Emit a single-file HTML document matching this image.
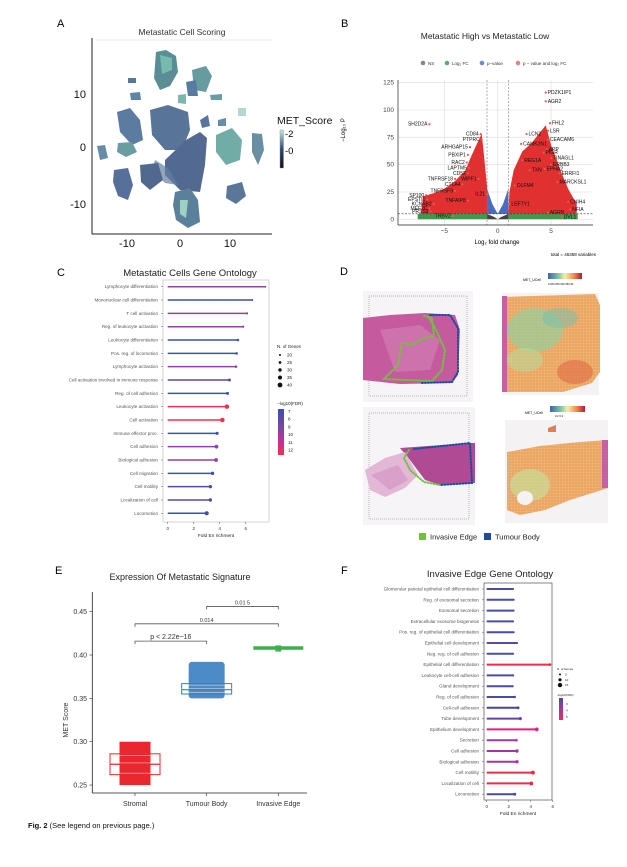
<!DOCTYPE html>
<html><head><meta charset="utf-8"><style>
html,body{margin:0;padding:0;background:#fff;}
svg{display:block;font-family:"Liberation Sans",sans-serif;}
</style></head><body>
<svg id="fig" width="627" height="867" viewBox="0 0 627 867" xmlns="http://www.w3.org/2000/svg">
<rect width="627" height="867" fill="#fff"/>
<defs>
<linearGradient id="gA" x1="0" y1="1" x2="0" y2="0"><stop offset="0" stop-color="#111"/><stop offset="0.5" stop-color="#2d4a7a"/><stop offset="1" stop-color="#c8eadc"/></linearGradient>
<linearGradient id="gSp" x1="0" y1="0" x2="1" y2="0"><stop offset="0" stop-color="#3f64b0"/><stop offset="0.3" stop-color="#7cc4a4"/><stop offset="0.5" stop-color="#f3f0a8"/><stop offset="0.75" stop-color="#f0904c"/><stop offset="1" stop-color="#b2183c"/></linearGradient>
<linearGradient id="gC" x1="0" y1="0" x2="0" y2="1"><stop offset="0" stop-color="#3a4fa8"/><stop offset="0.4" stop-color="#7a48a2"/><stop offset="0.7" stop-color="#c4309a"/><stop offset="1" stop-color="#f2304a"/></linearGradient>
<linearGradient id="gF" x1="0" y1="0" x2="0" y2="1"><stop offset="0" stop-color="#4a4aa8"/><stop offset="0.5" stop-color="#a038a0"/><stop offset="1" stop-color="#f02a5a"/></linearGradient>
<pattern id="spots" width="3" height="3" patternUnits="userSpaceOnUse"><circle cx="1.5" cy="1.5" r="1" fill="#f5c68a" opacity="0.6"/></pattern>
</defs>

<!-- PANEL A -->
<g>
<text x="57" y="27" font-size="11">A</text>
<text x="182" y="35" font-size="8.5" text-anchor="middle" fill="#333">Metastatic Cell Scoring</text>
<line x1="95" y1="40" x2="272" y2="40" stroke="#e8e8e8" stroke-width="1"/>
<g opacity="0.85">
<path d="M156,52 L166,50 L176,56 L178,72 L170,86 L160,90 L154,78 Z" fill="#3f7a86"/>
<path d="M160,55 L172,58 L172,70 L162,74 Z" fill="#5fb0a0"/>
<path d="M150,110 L168,105 L188,112 L190,130 L182,150 L165,150 L152,135 Z" fill="#3b5d86"/>
<path d="M165,160 L186,140 L200,132 L207,138 L205,165 L200,192 L180,190 L165,175 Z" fill="#34507e"/>
<path d="M155,160 L168,168 L178,185 L165,183 L152,170 Z" fill="#4a6a90" opacity="0.7"/>
<path d="M175,192 L190,188 L198,200 L200,222 L188,228 L176,220 L173,205 Z" fill="#3f6a8a"/>
<path d="M180,200 L188,200 L186,218 L180,214 Z" fill="#8fc8b8"/>
<path d="M192,70 L206,66 L212,76 L206,92 L194,90 Z" fill="#4c8a90"/>
<path d="M216,135 L232,128 L242,140 L240,160 L226,165 L216,152 Z" fill="#5a9e98"/>
<path d="M252,133 L262,134 L264,150 L258,165 L252,152 Z" fill="#4d7c92"/>
<path d="M227,186 L242,182 L246,196 L236,204 L226,198 Z" fill="#3e5f88"/>
<path d="M117,112 L130,108 L140,120 L143,140 L132,145 L120,132 Z" fill="#3f6590"/>
<path d="M97,146 L105,145 L108,158 L100,160 Z" fill="#4c7a96"/>
<path d="M118,143 L132,142 L137,152 L126,157 L117,152 Z" fill="#4f8c92"/>
<path d="M114,170 L128,168 L133,185 L128,200 L118,196 L113,182 Z" fill="#39578a"/>
<path d="M140,165 L158,163 L163,180 L150,190 L141,182 Z" fill="#33507c"/>
<path d="M186,82 L196,80 L198,96 L188,96 Z" fill="#3c6590"/>
<path d="M130,93 L140,92 L141,100 L131,100 Z" fill="#40709a"/>
<path d="M178,95 L186,94 L186,104 L178,103 Z" fill="#66aaa0"/>
<path d="M210,95 L222,94 L222,100 L211,100 Z" fill="#4f8e96"/>
<path d="M128,78 L136,78 L136,83 L128,83 Z" fill="#3a6090"/>
<path d="M218,120 L226,118 L226,126 L218,126 Z" fill="#4c7a96"/>
<path d="M238,108 L246,108 L246,116 L238,116 Z" fill="#6ab0a8" opacity="0.6"/>
<path d="M200,120 L208,115 L210,126 L202,128 Z" fill="#3a5d8c"/>
</g>
<line x1="92" y1="38" x2="92" y2="234" stroke="#222" stroke-width="1"/>
<line x1="92" y1="234" x2="272" y2="234" stroke="#222" stroke-width="1"/>
<g font-size="11" fill="#111">
<text x="86" y="98" text-anchor="end">10</text>
<text x="86" y="151" text-anchor="end">0</text>
<text x="86" y="208" text-anchor="end">-10</text>
<text x="127" y="247" text-anchor="middle">-10</text>
<text x="180" y="247" text-anchor="middle">0</text>
<text x="230" y="247" text-anchor="middle">10</text>
</g>
<text x="277" y="124" font-size="10.5" fill="#111">MET_Score</text>
<rect x="280" y="130" width="3.5" height="38" fill="url(#gA)" stroke="#888" stroke-width="0.4"/>
<text x="285" y="137" font-size="9.5">-2</text>
<text x="285" y="154" font-size="9.5">-0</text>
</g>

<!-- PANEL B -->
<g id="panelB">
<text x="341" y="27" font-size="11">B</text>
<text x="485" y="39" font-size="8.5" text-anchor="middle" fill="#222">Metastatic High vs Metastatic Low</text>
<g font-size="4.5" fill="#333">
<circle cx="423" cy="63" r="2.3" fill="#888"/><text x="428" y="64.8">NS</text>
<circle cx="447" cy="63" r="2.3" fill="#5cae6a"/><text x="452" y="64.8">Log₂ FC</text>
<circle cx="482" cy="63" r="2.3" fill="#6c8cc8"/><text x="487" y="64.8">p−value</text>
<circle cx="518" cy="63" r="2.3" fill="#e88080"/><text x="523" y="64.8">p − value and log₂ FC</text>
</g>
<g id="volcano"></g>
<text x="345" y="130" font-size="6" transform="rotate(-90 345 130)" text-anchor="middle">−Log₁₀ P</text>
<text x="497" y="244" font-size="6" text-anchor="middle">Log₂ fold change</text>
<text x="596" y="256" font-size="4.5" text-anchor="end">total = 46358 variables</text>
</g>

<!-- PANEL C -->
<g id="panelC">
<text x="57" y="276" font-size="11">C</text>
<text x="190" y="276" font-size="9.5" text-anchor="middle" fill="#222">Metastatic Cells Gene Ontology</text>
</g>

<!-- PANEL D -->
<g>
<text x="340" y="275" font-size="11">D</text>
<g>
<rect x="363" y="291" width="110" height="111" fill="#f6f4f7"/>
<rect x="369" y="296" width="98" height="100" fill="none" stroke="#ccc" stroke-width="1.5" stroke-dasharray="1 1"/>
<path d="M363,318 L390,315 L425,313 L455,315 L460,330 L458,375 L452,383 L400,384 L363,380 Z" fill="#c55a9e"/>
<path d="M380,330 L420,325 L440,340 L430,370 L395,372 Z" fill="#d27cb2" opacity="0.7"/>
<path d="M424,316 L432,318 L434,336 L424,338 L412,345 L402,343 L398,365 L384,379 L432,381 L442,370 L445,350 L436,330 L428,316" fill="none" stroke="#6fc23e" stroke-width="2" stroke-dasharray="1 2" stroke-linecap="round"/>
<path d="M430,315 L450,315 L458,328 L458,372 L452,382 L420,383" fill="none" stroke="#1e4aa0" stroke-width="2" stroke-dasharray="1 2" stroke-linecap="round"/>
</g>
<g>
<text x="523" y="281" font-size="3.5">MET_UCell</text>
<rect x="548" y="273" width="34" height="6" fill="url(#gSp)"/>
<text x="548" y="285" font-size="2.6">0.200.250.300.350.40</text>
<rect x="502" y="293" width="97" height="102" fill="#f4f2f2"/>
<path d="M503,297 L595,294 L600,305 L600,372 L592,383 L563,392 L503,392 Z" fill="#eaa460"/>
<path d="M503,297 L595,294 L600,305 L600,372 L592,383 L563,392 L503,392 Z" fill="url(#spots)"/>
<ellipse cx="535" cy="330" rx="28" ry="22" fill="#9ccc9a" opacity="0.75"/>
<ellipse cx="560" cy="318" rx="18" ry="10" fill="#7fbfa8" opacity="0.6"/>
<ellipse cx="525" cy="360" rx="18" ry="12" fill="#b8d89a" opacity="0.6"/>
<ellipse cx="575" cy="372" rx="18" ry="12" fill="#e06a44" opacity="0.6"/>
<rect x="502" y="296" width="5" height="96" fill="#c860a0"/>
</g>
<g>
<rect x="363" y="407" width="112" height="118" fill="#f6f4f7"/>
<rect x="369" y="413" width="100" height="106" fill="none" stroke="#ccc" stroke-width="1.5" stroke-dasharray="1 1"/>
<path d="M400,448 L470,443 L475,443 L475,483 L440,485 L425,480 L410,460 Z" fill="#b04a94"/>
<path d="M365,470 L385,458 L405,452 L418,475 L405,488 L385,497 L370,490 Z" fill="#e2b8d6"/>
<path d="M371,475 L398,465 L408,480 L390,490 Z" fill="#d38fc0" opacity="0.6"/>
<path d="M409,450 L404,458 L410,470 L424,482 L440,485" fill="none" stroke="#6fc23e" stroke-width="2" stroke-dasharray="1 2" stroke-linecap="round"/>
<path d="M414,449 L470,443 L472,483 L440,485" fill="none" stroke="#1e4aa0" stroke-width="2" stroke-dasharray="1 2" stroke-linecap="round"/>
</g>
<g>
<text x="525" y="414" font-size="3.5">MET_UCell</text>
<rect x="550" y="406" width="35" height="6" fill="url(#gSp)"/>
<text x="555" y="417" font-size="2.6">0.2    0.3</text>
<rect x="505" y="420" width="103" height="103" fill="#f4f2f2"/>
<path d="M507,452 L540,446 L580,442 L608,440 L608,488 L570,500 L545,510 L520,515 L507,510 Z" fill="#eaa460"/>
<path d="M507,452 L540,446 L580,442 L608,440 L608,488 L570,500 L545,510 L520,515 L507,510 Z" fill="url(#spots)"/>
<ellipse cx="530" cy="485" rx="20" ry="16" fill="#c8dc98" opacity="0.7"/>
<ellipse cx="525" cy="498" rx="8" ry="7" fill="#f4f2f2"/>
<rect x="602" y="440" width="6" height="48" fill="#c860a0"/>
<path d="M548,428 L556,425 L556,432 L548,432 Z" fill="#e08050"/>
</g>
<g font-size="7.5" fill="#222">
<rect x="419" y="533" width="7" height="7" fill="#6fc23e"/><text x="430" y="539.5">Invasive Edge</text>
<rect x="484" y="533" width="7" height="7" fill="#1e4aa0"/><text x="495" y="539.5">Tumour Body</text>
</g>
</g>

<!-- PANEL E -->
<g id="panelE">
<text x="55" y="574" font-size="11">E</text>
<text x="180" y="580" font-size="9" text-anchor="middle" fill="#222">Expression Of Metastatic Signature</text>
</g>

<!-- PANEL F -->
<g id="panelF">
<text x="341" y="574" font-size="11">F</text>
<text x="490" y="577" font-size="9.5" text-anchor="middle" fill="#222">Invasive Edge Gene Ontology</text>
</g>

<text x="28" y="828" font-size="7.5" fill="#111"><tspan font-weight="bold">Fig. 2</tspan>  (See legend on previous page.)</text>
</svg>

<script>
const NS='http://www.w3.org/2000/svg';
function mk(parent,tag,attrs,text){const e=document.createElementNS(NS,tag);for(const k in attrs)e.setAttribute(k,attrs[k]);if(text!==undefined)e.textContent=text;parent.appendChild(e);return e;}

/* ---------- Panel B: volcano ---------- */
const volcanoXTicks=[-5,0,5];
const volcanoYTicks=[0,25,50,75,100,125];
const geneNames=['PDZK1IP1','AGR2','SH2D2A','FHL2','CD84','LCN2','LSR','PTPRC','CEACAM6','CAMK2N1','ARHGAP15','APP','PIGR','PBXIP1','TINAGL1','REG1A','RAC2','ERBB3','LAPTM5','EPHA2','TXN','CD52','ERRFI1','WIPF1','TNFRSF18','CTLA4','MARCKSL1','TNFRSF9','OLFM4','SP100','IL21','EPSTI1','TNFAIP8','CNIH4','KCNAB2','LEFTY1','NFIA','AGRN','DVL1','TRBV2','MEF2C','PRSS3'];
const geneFC=[4.5,4.5,-6.4,4.9,-1.6,2.7,4.7,-1.5,4.7,2.2,-2.6,4.6,4.3,-2.8,5.0,2.3,-2.9,5.0,-2.7,4.4,3.0,-2.8,5.8,-1.8,-4.0,-3.3,5.6,-4.0,1.6,-6.7,-1.0,-6.6,-2.8,6.6,-6.0,1.1,6.8,4.7,6.0,-4.2,-6.4,-6.3];
const geneP=[116,108,87,88,78,78,81,73,73,69,66,64,61,59,56,54,52,50,47,46,45,42,42,37,37,32,34,26,31,22,23,18,17,16,14,14,9,6,2,3,10,7];
const gx=v=>497.7+v*10.67, gy=v=>219.3-v*1.093;
(function(){
 const g=document.getElementById('volcano');
 mk(g,'rect',{x:398,y:80,width:195,height:145,fill:'#fff'});
 volcanoXTicks.forEach(t=>{const l=mk(g,'line',{x1:gx(t),x2:gx(t),y1:80,y2:225,stroke:'#e4e4e4','stroke-width':0.8});
  const tx=mk(g,'text',{x:gx(t),y:233,'font-size':6.5,'text-anchor':'middle',fill:'#444'},t===0?'0':(t<0?'−'+(-t):t));});
 volcanoYTicks.forEach(t=>{const l=mk(g,'line',{x1:398,x2:593,y1:gy(t),y2:gy(t),stroke:'#e4e4e4','stroke-width':0.8});
  const tx=mk(g,'text',{x:394,y:gy(t)+2,'font-size':6.5,'text-anchor':'end',fill:'#444'},t);});
 const poly=(pts,fill,name)=>{const p=mk(g,'polygon',{points:pts.map(p=>gx(p[0])+','+gy(p[1])).join(' '),fill:fill});};
 poly([[-7.5,0],[-1,0],[-1,5],[-7.5,5]],'#3f9a4e','volcano-logfc-region');
 poly([[1,0],[7.5,0],[7.5,5],[1,5]],'#3f9a4e','volcano-logfc-region');
 poly([[-1,5],[-1,28],[-0.5,14],[0,5],[0.5,14],[1,28],[1,5]],'#4a6cc0','volcano-pvalue-region');
 poly([[-1,0],[1,0],[1,5],[0.3,2],[0,0],[-0.3,2],[-1,5]],'#444','volcano-ns-region');
 poly([[-1,5],[-1,30],[-1.3,60],[-1.5,78],[-2,68],[-2.6,55],[-3,45],[-4,35],[-5,28],[-6,24],[-7,21],[-7.2,5]],'#e03030','volcano-significant-down');
 poly([[1,5],[1.1,25],[1.5,45],[2.3,62],[3.2,70],[4.5,86],[5,68],[5.5,55],[6,42],[6.6,28],[7.4,14],[7.4,5]],'#e03030','volcano-significant-up');
 geneNames.forEach((n,i)=>{const c=mk(g,'circle',{cx:gx(geneFC[i]),cy:gy(geneP[i]),r:1.1,fill:'#e55'});
  const left=geneFC[i]<0;const t=mk(g,'text',{x:gx(geneFC[i])+(left?-2:2),y:gy(geneP[i])+1.5,'font-size':5,'text-anchor':left?'end':'start',fill:'#111'},n);});
 [[-1],[1]].forEach(v=>{const l=mk(g,'line',{x1:gx(v[0]),x2:gx(v[0]),y1:80,y2:225,stroke:'#777','stroke-width':0.6,'stroke-dasharray':'2 1.5'});});
 const h=mk(g,'line',{x1:398,x2:593,y1:gy(5),y2:gy(5),stroke:'#333','stroke-width':0.6,'stroke-dasharray':'2 1.5'});
 mk(g,'line',{x1:398,x2:398,y1:80,y2:225,stroke:'#222','stroke-width':0.7});
 mk(g,'line',{x1:398,x2:593,y1:225,y2:225,stroke:'#222','stroke-width':0.7});
})();

/* ---------- Panel C ---------- */
const cTerms=['Lymphocyte differentiation','Mononuclear cell differentiation','T cell activation','Reg. of leukocyte activation','Leukocyte differentiation','Pos. reg. of locomotion','Lymphocyte activation','Cell activation involved in immune response','Reg. of cell adhesion','Leukocyte activation','Cell activation','Immune effector proc.','Cell adhesion','Biological adhesion','Cell migration','Cell motility','Localization of cell','Locomotion'];
const cFold=[7.5,6.5,6.1,5.8,5.4,5.3,5.25,4.75,4.6,4.55,4.2,3.8,3.75,3.72,3.45,3.28,3.28,3.0];
const cGenes=[20,20,22,22,24,24,25,27,27,38,38,28,33,33,30,30,30,35];
const cFDR=[9,7,9,9,7,7,9,8,7,12,12,7,9,9,7,8,8,7];
const cXTicks=[0,2,4,6];
const fdrColors={3:'#4a4aa8',4:'#a038a0',5:'#f02a4a',7:'#3a52aa',8:'#5848a0',9:'#8e44a2',10:'#c4309a',11:'#e4206a',12:'#f2304a'};
function lollipop(gid,terms,fold,genes,fdr,ticks,cfg){
 const g=document.getElementById(gid);
 const xs=v=>cfg.x0+v*cfg.ux, ys=i=>cfg.y0+i*cfg.step;
 const box=mk(g,'rect',{x:cfg.bx,y:cfg.by,width:cfg.bw,height:cfg.bh,fill:'none',stroke:cfg.boxStroke,'stroke-width':0.8});
 ticks.forEach(t=>{mk(g,'line',{x1:xs(t),x2:xs(t),y1:cfg.by+cfg.bh,y2:cfg.by+cfg.bh+2,stroke:'#555','stroke-width':0.5});
  const tx=mk(g,'text',{x:xs(t),y:cfg.by+cfg.bh+8,'font-size':4.5,'text-anchor':'middle',fill:'#333'},t);});
 const xt=mk(g,'text',{x:(cfg.bx+cfg.bx+cfg.bw)/2,y:cfg.by+cfg.bh+15,'font-size':4.8,'text-anchor':'middle',fill:'#222'},'Fold En richment');
 terms.forEach((t,i)=>{const y=ys(i);const col=fdrColors[fdr[i]];
  const lb=mk(g,'text',{x:cfg.bx-5,y:y+1.5,'font-size':cfg.fs,'text-anchor':'end',fill:'#555'},t);
  mk(g,'line',{x1:cfg.bx-2,x2:cfg.bx,y1:y,y2:y,stroke:'#555','stroke-width':0.5});
  const ln=mk(g,'line',{x1:xs(0),x2:xs(fold[i]),y1:y,y2:y,stroke:col,'stroke-width':cfg.lw});
  const c=mk(g,'circle',{cx:xs(fold[i]),cy:y,r:cfg.r(genes[i]),fill:col});});
}
lollipop('panelC',cTerms,cFold,cGenes,cFDR,cXTicks,{x0:167.7,ux:13,y0:286.7,step:13.33,bx:163,by:280,bw:106,bh:242,boxStroke:'#ccc',lw:1.5,fs:4.6,r:n=>1+(n-20)*0.07});
(function(){const g=document.getElementById('panelC');
 const sizeLegend=[20,25,30,35,40];
 const t=mk(g,'text',{x:277,y:348,'font-size':4.5,fill:'#222'},'N. of Genes');
 sizeLegend.forEach((n,i)=>{const c=mk(g,'circle',{cx:280,cy:355+i*7.5,r:1+(n-20)*0.07,fill:'#111'});mk(g,'text',{x:287,y:356.5+i*7.5,'font-size':4.5,fill:'#222'},n);});
 const t2=mk(g,'text',{x:277,y:405,'font-size':4.5,fill:'#222'},'−log10(FDR)');
 const cb=mk(g,'rect',{x:278,y:409,width:6,height:46,fill:'url(#gC)'});
 [7,8,9,10,11,12].forEach((v,i)=>mk(g,'text',{x:288,y:413+i*7.7,'font-size':4.5,fill:'#222'},v));
})();

/* ---------- Panel F ---------- */
const fTerms=['Glomerular parietal epithelial cell differentiation','Reg. of exosomal secretion','Exosomal secretion','Extracellular exosome biogenesis','Pos. reg. of epithelial cell differentiation','Epithelial cell development','Neg. reg. of cell adhesion','Epithelial cell differentiation','Leukocyte cell-cell adhesion','Gland development','Reg. of cell adhesion','Cell-cell adhesion','Tube development','Epithelium development','Secretion','Cell adhesion','Biological adhesion','Cell motility','Localization of cell','Locomotion'];
const fFold=[2.4,2.45,2.45,2.4,2.45,2.75,2.4,5.75,2.4,2.35,2.55,2.85,3.05,4.55,2.7,2.75,2.75,4.2,4.05,2.55];
const fGenes=[5,5,5,5,5,6,5,8,6,6,7,9,10,12,8,11,11,13,13,9];
const fFDR=[3,3,3,3,3,3.5,3,5,3,3,3,3.2,3.6,4.8,4,4,4,5,5,3];
fdrColors[3.5]='#5a4aa8';fdrColors[3.2]='#4b3fa8';fdrColors[3.6]='#6a3fa8';fdrColors[4.8]='#e0207a';
const fXTicks=[0,2,4,6];
lollipop('panelF',fTerms,fFold,fGenes,fFDR,fXTicks,{x0:486.7,ux:11,y0:589,step:10.8,bx:484,by:583,bw:68,bh:217,boxStroke:'#666',lw:2,fs:4.6,r:n=>1+(n-5)*0.12});
(function(){const g=document.getElementById('panelF');
 mk(g,'text',{x:557,y:670,'font-size':3,fill:'#222'},'N. of Genes');
 [5,10,15].forEach((n,i)=>{const c=mk(g,'circle',{cx:560,cy:674.5+i*5.3,r:1+(n-5)*0.12,fill:'#111'});mk(g,'text',{x:565,y:675.5+i*5.3,'font-size':3,fill:'#222'},n);});
 mk(g,'text',{x:557,y:696,'font-size':3,fill:'#222'},'-log10(FDR)');
 const cb=mk(g,'rect',{x:559,y:698,width:4,height:22,fill:'url(#gF)'});
 [3,4,5].forEach((v,i)=>mk(g,'text',{x:566,y:705+i*6.5,'font-size':3,fill:'#222'},v));
})();

/* ---------- Panel E ---------- */
const eGroups=['Stromal','Tumour Body','Invasive Edge'];
const eQ1=[0.262,0.355,0.407];
const eMed=[0.274,0.360,0.408];
const eQ3=[0.286,0.367,0.409];
const ePtMin=[0.250,0.350,0.404];
const ePtMax=[0.300,0.392,0.411];
const eYTicks=[0.25,0.30,0.35,0.40,0.45];
const eColors=['#e8282e','#3a7ec0','#3cb04a'];
const eComp=[[0,1,'p < 2.22e−16',0.416],[0,2,'0.014',0.436],[1,2,'0.01 5',0.456]];
(function(){
 const g=document.getElementById('panelE');
 const ey=v=>655-(v-0.40)*867, ex=i=>135+i*71.65;
 mk(g,'line',{x1:92.3,x2:92.3,y1:592,y2:793,stroke:'#222','stroke-width':0.8});
 mk(g,'line',{x1:92.3,x2:307,y1:793,y2:793,stroke:'#222','stroke-width':0.8});
 eYTicks.forEach(t=>{mk(g,'line',{x1:89.5,x2:92.3,y1:ey(t),y2:ey(t),stroke:'#222','stroke-width':0.6});
  const tx=mk(g,'text',{x:87,y:ey(t)+2.5,'font-size':7,'text-anchor':'end',fill:'#333'},t.toFixed(2));});
 const yl=mk(g,'text',{x:68,y:720,'font-size':7,'text-anchor':'middle',transform:'rotate(-90 68 720)',fill:'#333'},'MET Score');
 eGroups.forEach((n,i)=>{const x=ex(i),col=eColors[i];
  mk(g,'line',{x1:x,x2:x,y1:793,y2:796,stroke:'#222','stroke-width':0.6});
  const tl=mk(g,'text',{x:x,y:806,'font-size':7,'text-anchor':'middle',fill:'#333'},n);
  const bw=25;
  const pw=i===0?15.5:(i===1?18:3);
  const pts=mk(g,'rect',{x:x-pw,y:ey(ePtMax[i]),width:pw*2,height:ey(ePtMin[i])-ey(ePtMax[i]),fill:col,rx:i===1?3:0,opacity:i===1?0.9:1});
  if(i<2){
   const bx=mk(g,'rect',{x:x-bw,y:ey(eQ3[i]),width:bw*2,height:ey(eQ1[i])-ey(eQ3[i]),fill:'none',stroke:col,'stroke-width':1});
   const inner=mk(g,'rect',{x:x-bw+1.5,y:ey(eQ3[i])+1.5,width:bw*2-3,height:ey(eQ1[i])-ey(eQ3[i])-3,fill:'none',stroke:'#fff','stroke-width':0.6,opacity:0.7});
   const md=mk(g,'line',{x1:x-bw,x2:x+bw,y1:ey(eMed[i]),y2:ey(eMed[i]),stroke:col,'stroke-width':1.2});
   mk(g,'line',{x1:x-bw,x2:x+bw,y1:ey(eMed[i])-1.3,y2:ey(eMed[i])-1.3,stroke:'#fff','stroke-width':0.5,opacity:0.8});
  } else {
   const md=mk(g,'rect',{x:x-25,y:ey(eMed[i])-1.8,width:50,height:3.5,fill:col});
  }
 });
 eComp.forEach(c=>{const y=ey(c[3]);const p=mk(g,'path',{d:`M${ex(c[0])},${y+3}V${y}H${ex(c[1])}V${y+3}`,fill:'none',stroke:'#555','stroke-width':0.8});
  const t=mk(g,'text',{x:(ex(c[0])+ex(c[1]))/2,y:y-2,'font-size':c[2].length>6?7:5.5,'text-anchor':'middle',fill:'#333'},c[2]);});
})();
</script>
</body></html>
